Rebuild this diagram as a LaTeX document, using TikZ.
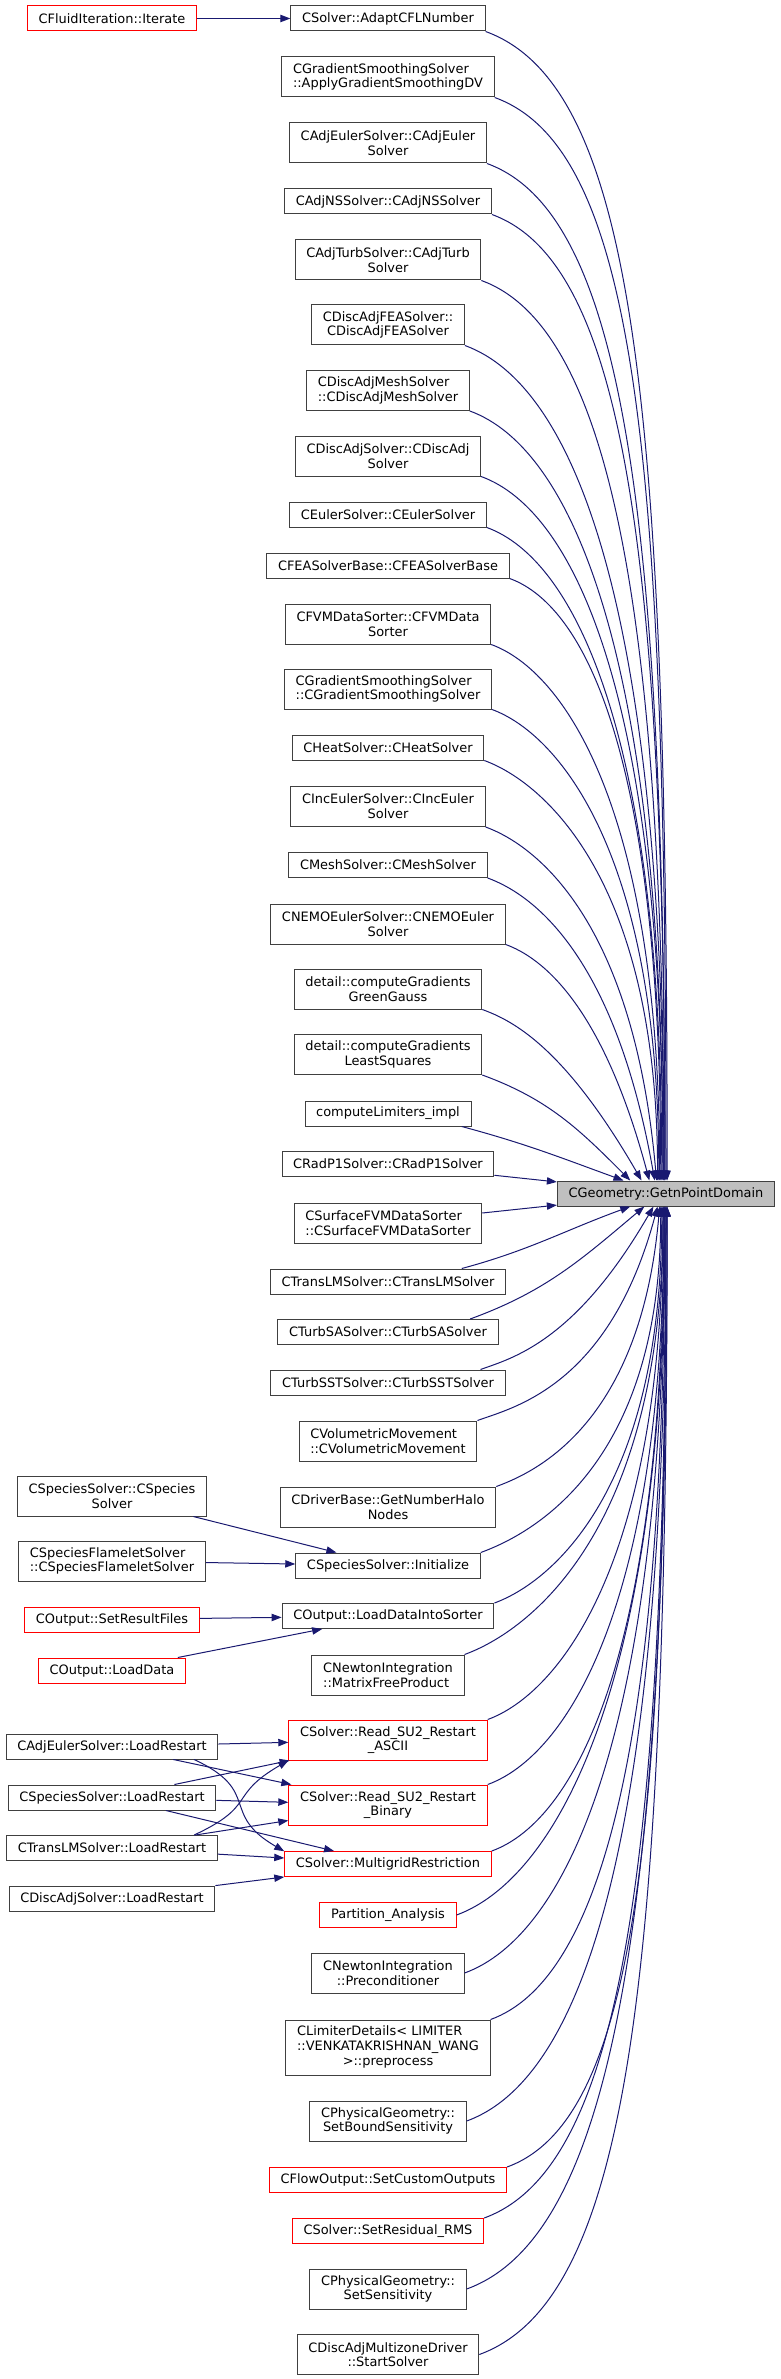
\documentclass[tikz,border=0pt]{standalone}
\usepackage{fontspec}
\setmainfont{DejaVu Sans}
\usetikzlibrary{arrows.meta}
\definecolor{edgeblue}{HTML}{191970}
\definecolor{boxline}{HTML}{404040}
\definecolor{hilite}{HTML}{BFBFBF}
\definecolor{trunc}{HTML}{FF0000}

\begin{document}
\begin{tikzpicture}[x=0.75pt, y=0.75pt,
    every node/.style={font=\fontsize{9.7}{11}\selectfont},
    box/.style={draw=boxline, line width=0.75pt, fill=white, align=center, inner xsep=8.4pt, inner ysep=2pt, minimum height=18.75pt},
    tall/.style={minimum height=30pt},
    taller/.style={minimum height=41.25pt},
    ragged/.style={align=left},
    cut/.style={box, draw=trunc},
    call/.style={draw=edgeblue, line width=0.75pt, -{Triangle[length=7.5pt,width=5.5pt]}},
    fall/.style={out=-20, in=90, out looseness=0.35, in looseness=1.7},
    climb/.style={out=20, in=-90, out looseness=0.35, in looseness=1.7}]
    \useasboundingbox (0,0) rectangle (781,-2379);

    % the function itself
    \node[box, fill=hilite] (geo) at (666,-1193.5) {CGeometry::GetnPointDomain};

    % direct callers
    \node[box] (cfl) at (388,-18.5) {CSolver::AdaptCFLNumber};
    \node[box, tall, ragged] (gsdv) at (388,-77) {CGradientSmoothingSolver\\::ApplyGradientSmoothingDV};
    \node[box, tall] (adjeuler) at (388,-143) {CAdjEulerSolver::CAdjEuler\\Solver};
    \node[box] (adjns) at (388,-201.5) {CAdjNSSolver::CAdjNSSolver};
    \node[box, tall] (adjturb) at (388,-260) {CAdjTurbSolver::CAdjTurb\\Solver};
    \node[box, tall] (dafea) at (388,-325) {CDiscAdjFEASolver::\\CDiscAdjFEASolver};
    \node[box, tall, ragged] (damesh) at (388,-390.5) {CDiscAdjMeshSolver\\::CDiscAdjMeshSolver};
    \node[box, tall] (dasolver) at (388,-456) {CDiscAdjSolver::CDiscAdj\\Solver};
    \node[box] (euler) at (388,-514.5) {CEulerSolver::CEulerSolver};
    \node[box] (feabase) at (388,-565.5) {CFEASolverBase::CFEASolverBase};
    \node[box, tall] (fvmsorter) at (388,-624) {CFVMDataSorter::CFVMData\\Sorter};
    \node[box, tall, ragged] (gssolver) at (388,-689) {CGradientSmoothingSolver\\::CGradientSmoothingSolver};
    \node[box] (heat) at (388,-747.5) {CHeatSolver::CHeatSolver};
    \node[box, tall] (inceuler) at (388,-806.5) {CIncEulerSolver::CIncEuler\\Solver};
    \node[box] (mesh) at (388,-865) {CMeshSolver::CMeshSolver};
    \node[box, tall] (nemo) at (388,-924) {CNEMOEulerSolver::CNEMOEuler\\Solver};
    \node[box, tall] (ggauss) at (388,-989) {detail::computeGradients\\GreenGauss};
    \node[box, tall] (lsq) at (388,-1054.5) {detail::computeGradients\\LeastSquares};
    \node[box] (limiters) at (388,-1113.5) {computeLimiters\_impl};
    \node[box] (radp1) at (388,-1164) {CRadP1Solver::CRadP1Solver};
    \node[box, tall, ragged] (surffvm) at (388,-1223) {CSurfaceFVMDataSorter\\::CSurfaceFVMDataSorter};
    \node[box] (translm) at (388,-1281.5) {CTransLMSolver::CTransLMSolver};
    \node[box] (turbsa) at (388,-1332) {CTurbSASolver::CTurbSASolver};
    \node[box] (turbsst) at (388,-1382.5) {CTurbSSTSolver::CTurbSSTSolver};
    \node[box, tall, ragged] (volmove) at (388,-1441) {CVolumetricMovement\\::CVolumetricMovement};
    \node[box, tall] (halo) at (388,-1507) {CDriverBase::GetNumberHalo\\Nodes};
    \node[box] (init) at (388,-1565.5) {CSpeciesSolver::Initialize};
    \node[box] (ldis) at (388,-1616) {COutput::LoadDataIntoSorter};
    \node[box, tall, ragged] (matfree) at (388,-1675) {CNewtonIntegration\\::MatrixFreeProduct};
    \node[cut, tall] (ascii) at (388,-1740) {CSolver::Read\_SU2\_Restart\\\_ASCII};
    \node[cut, tall] (binary) at (388,-1805) {CSolver::Read\_SU2\_Restart\\\_Binary};
    \node[cut] (mgr) at (388,-1864) {CSolver::MultigridRestriction};
    \node[cut] (partition) at (388,-1915) {Partition\_Analysis};
    \node[box, tall] (precond) at (388,-1973) {CNewtonIntegration\\::Preconditioner};
    \node[box, taller] (limdet) at (388,-2047.5) {\begin{tabular}{@{}l@{}}CLimiterDetails< LIMITER\\::VENKATAKRISHNAN\_WANG\\\multicolumn{1}{@{}c@{}}{>::preprocess}\end{tabular}};
    \node[box, tall] (boundsens) at (388,-2121) {CPhysicalGeometry::\\SetBoundSensitivity};
    \node[cut] (customout) at (388,-2180) {CFlowOutput::SetCustomOutputs};
    \node[cut] (resrms) at (388,-2231) {CSolver::SetResidual\_RMS};
    \node[box, tall] (sens) at (388,-2289) {CPhysicalGeometry::\\SetSensitivity};
    \node[box, tall] (startsolver) at (388,-2354.5) {CDiscAdjMultizoneDriver\\::StartSolver};

    % second level callers
    \node[cut] (iterate) at (112,-18.5) {CFluidIteration::Iterate};
    \node[box, tall] (cspecies) at (112,-1496) {CSpeciesSolver::CSpecies\\Solver};
    \node[box, tall, ragged] (flamelet) at (112,-1561) {CSpeciesFlameletSolver\\::CSpeciesFlameletSolver};
    \node[cut] (setresult) at (112,-1619.5) {COutput::SetResultFiles};
    \node[cut] (loaddata) at (112,-1670.5) {COutput::LoadData};
    \node[box] (adjlr) at (112,-1746.5) {CAdjEulerSolver::LoadRestart};
    \node[box] (specieslr) at (112,-1797.5) {CSpeciesSolver::LoadRestart};
    \node[box] (translmlr) at (112,-1848) {CTransLMSolver::LoadRestart};
    \node[box] (dalr) at (112,-1898.5) {CDiscAdjSolver::LoadRestart};

    % left part
    \draw[call] (iterate) -- (cfl);
    \draw[call] (cspecies) -- (init);
    \draw[call] (flamelet) -- (init);
    \draw[call] (setresult) -- (ldis);
    \draw[call] (loaddata) -- (ldis);
    \draw[call] (adjlr) -- (ascii);
    \draw[call] (adjlr) -- (binary);
    \draw[call] (adjlr.-9) to[out=-25, in=150, looseness=1.5] (mgr.173);
    \draw[call] (specieslr) -- (ascii);
    \draw[call] (specieslr) -- (binary);
    \draw[call] (specieslr) -- (mgr);
    \draw[call] (translmlr.9) to[out=25, in=-150, looseness=1.5] (ascii.south west);
    \draw[call] (translmlr) -- (binary);
    \draw[call] (translmlr) -- (mgr);
    \draw[call] (dalr) -- (mgr);

    % into GetnPointDomain from above
    \draw[call] (cfl.south east) to[fall] (geo.85);
    \draw[call] (gsdv.south east) to[fall] (geo.90);
    \draw[call] (adjeuler.south east) to[fall] (geo.95);
    \draw[call] (adjns.south east) to[fall] (geo.95);
    \draw[call] (adjturb.south east) to[fall] (geo.99);
    \draw[call] (dafea.south east) to[fall] (geo.99);
    \draw[call] (damesh.south east) to[fall] (geo.103);
    \draw[call] (dasolver.south east) to[fall] (geo.103);
    \draw[call] (euler.south east) to[fall] (geo.108);
    \draw[call] (feabase.south east) to[fall] (geo.112);
    \draw[call] (fvmsorter.south east) to[fall] (geo.116);
    \draw[call] (gssolver.south east) to[fall] (geo.119);
    \draw[call] (heat.south east) to[fall] (geo.123);
    \draw[call] (inceuler.south east) to[fall, in=95] (geo.126);
    \draw[call] (mesh.south east) to[fall, in=100] (geo.131);
    \draw[call] (nemo.south east) to[fall, in=105] (geo.142);
    \draw[call] (ggauss.south east) to[fall, in=120] (geo.152);
    \draw[call] (lsq.south east) to[out=-20, in=135] (geo.160);
    \draw[call] (limiters.-10) to[out=-15, in=160] (geo.163);
    \draw[call] (radp1) -- (geo);
    \draw[call] (surffvm) -- (geo);

    % into GetnPointDomain from below
    \draw[call] (translm.10) to[out=15, in=-160] (geo.-160);
    \draw[call] (turbsa.9) to[out=20, in=-140] (geo.-149);
    \draw[call] (turbsst.8) to[climb, in=-120] (geo.-134);
    \draw[call] (volmove.north east) to[climb, in=-105] (geo.-123);
    \draw[call] (halo.north east) to[climb, in=-95] (geo.-116);
    \draw[call] (init.north east) to[climb] (geo.-112);
    \draw[call] (ldis.north east) to[climb] (geo.-108);
    \draw[call] (matfree.north east) to[climb] (geo.-103);
    \draw[call] (ascii.north east) to[climb] (geo.-103);
    \draw[call] (binary.north east) to[climb] (geo.-99);
    \draw[call] (mgr.north east) to[climb] (geo.-99);
    \draw[call] (partition.east) to[climb] (geo.-95);
    \draw[call] (precond.east) to[climb] (geo.-95);
    \draw[call] (limdet.north east) to[climb] (geo.-95);
    \draw[call] (boundsens.east) to[climb] (geo.-90);
    \draw[call] (customout.north east) to[climb] (geo.-90);
    \draw[call] (resrms.north east) to[climb] (geo.-90);
    \draw[call] (sens.east) to[climb] (geo.-85);
    \draw[call] (startsolver.east) to[climb] (geo.-85);
\end{tikzpicture}
\end{document}
